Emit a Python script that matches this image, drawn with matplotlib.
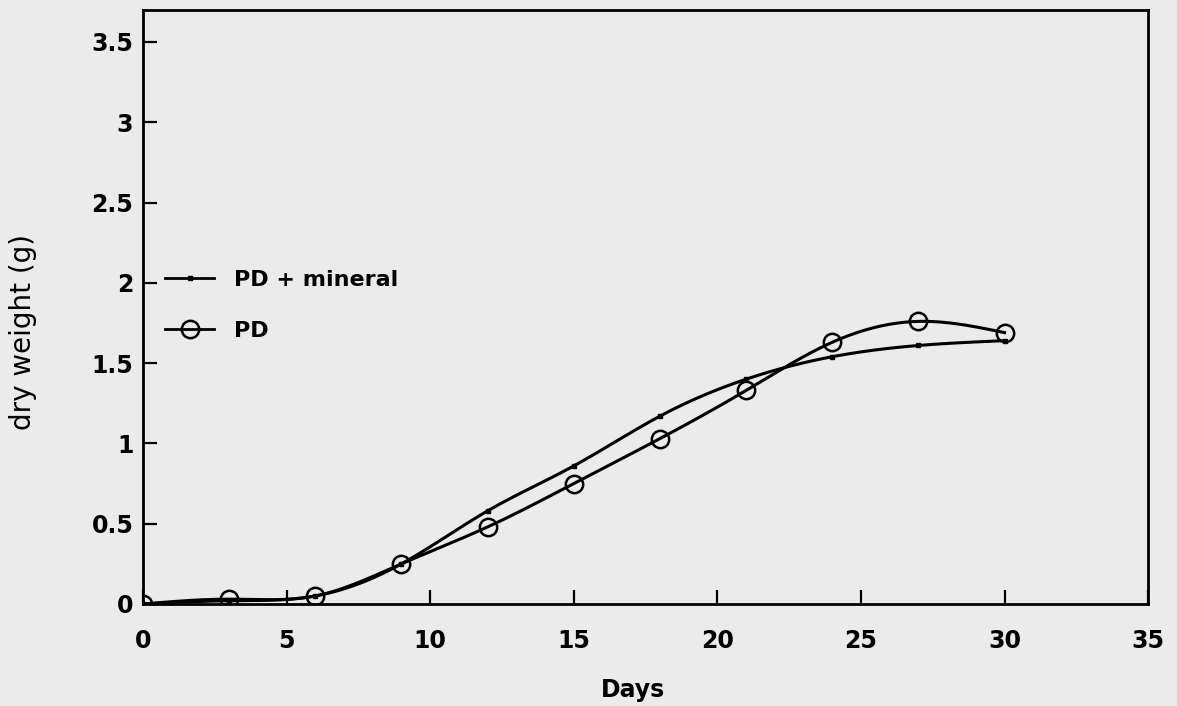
import numpy as np
import matplotlib
matplotlib.use("Agg")
from matplotlib import pyplot as plt

# sampling days and dry weight (g) of the two treatments
days = np.array([0, 3, 6, 9, 12, 15, 18, 21, 24, 27, 30])
pd_mineral = np.array([0.0, 0.02, 0.05, 0.25, 0.58, 0.86, 1.17, 1.40, 1.54, 1.61, 1.64])
pd_only = np.array([0.0, 0.03, 0.05, 0.25, 0.48, 0.75, 1.03, 1.33, 1.63, 1.76, 1.69])

xticks = [0, 5, 10, 15, 20, 25, 30, 35]
yticks = [0, 0.5, 1, 1.5, 2, 2.5, 3, 3.5]
yticklabels = ["0", "0.5", "1", "1.5", "2", "2.5", "3", "3.5"]


def natural_spline(x, y, xs):
    # natural cubic spline through the measured points
    n = len(x)
    h = np.diff(x)
    A = np.zeros((n, n))
    b = np.zeros(n)
    A[0, 0] = A[-1, -1] = 1
    for i in range(1, n - 1):
        A[i, i - 1] = h[i - 1]
        A[i, i] = 2 * (h[i - 1] + h[i])
        A[i, i + 1] = h[i]
        b[i] = 3 * ((y[i + 1] - y[i]) / h[i] - (y[i] - y[i - 1]) / h[i - 1])
    c = np.linalg.solve(A, b)
    bb = np.diff(y) / h - h * (2 * c[:-1] + c[1:]) / 3
    d = np.diff(c) / (3 * h)
    k = np.clip(np.searchsorted(x, xs, side="right") - 1, 0, n - 2)
    t = xs - x[k]
    return y[k] + bb[k] * t + c[k] * t ** 2 + d[k] * t ** 3


plt.rcParams["font.family"] = ["DejaVu Sans"]

fig = plt.figure(figsize=(11.77, 7.06), dpi=100, facecolor="#ebebeb")
ax = fig.add_axes([0.1215, 0.1445, 0.854, 0.8415])
ax.set_facecolor("#ebebeb")

xs = np.linspace(0, 30, 400)
ax.plot(xs, natural_spline(days, pd_mineral, xs), color="black", lw=2.2)
ax.plot(xs, natural_spline(days, pd_only, xs), color="black", lw=2.2)
ax.plot(days, pd_mineral, ls="none", marker="s", ms=3.5, color="black")
ax.plot(days, pd_only, ls="none", marker="o", ms=12.5, mfc="none", mec="black", mew=1.8)

# legend entries
h1, = ax.plot([], [], color="black", lw=2, marker="s", ms=3.5, label="PD + mineral")
h2, = ax.plot([], [], color="black", lw=2, marker="o", ms=12.5, mfc="none", mew=1.8, label="PD")
ax.legend(handles=[h1, h2], loc="upper left", bbox_to_anchor=(0.0, 0.6),
          frameon=False, prop={"size": 16, "weight": "bold"}, handlelength=2.2,
          handletextpad=0.9, labelspacing=1.4, borderaxespad=0.6)

ax.set_xlim(0, 35)
ax.set_ylim(0, 3.7)
ax.set_xticks(xticks)
ax.set_yticks(yticks)
ax.set_yticklabels(yticklabels)
ax.tick_params(axis="both", direction="in", length=10, width=1.6, labelsize=17,
               top=False, right=False)
ax.tick_params(axis="x", pad=18)
ax.tick_params(axis="y", pad=7)
for lbl in ax.get_xticklabels() + ax.get_yticklabels():
    lbl.set_fontweight("bold")
for s in ax.spines.values():
    s.set_linewidth(2)

ax.set_xlabel("Days", fontsize=17, fontweight="bold")
ax.xaxis.set_label_coords(0.487, -0.125)
ax.set_ylabel("dry weight (g)", fontsize=20)
ax.yaxis.set_label_coords(-0.105, 0.458)

fig.savefig("out.png", dpi=100, facecolor=fig.get_facecolor())
